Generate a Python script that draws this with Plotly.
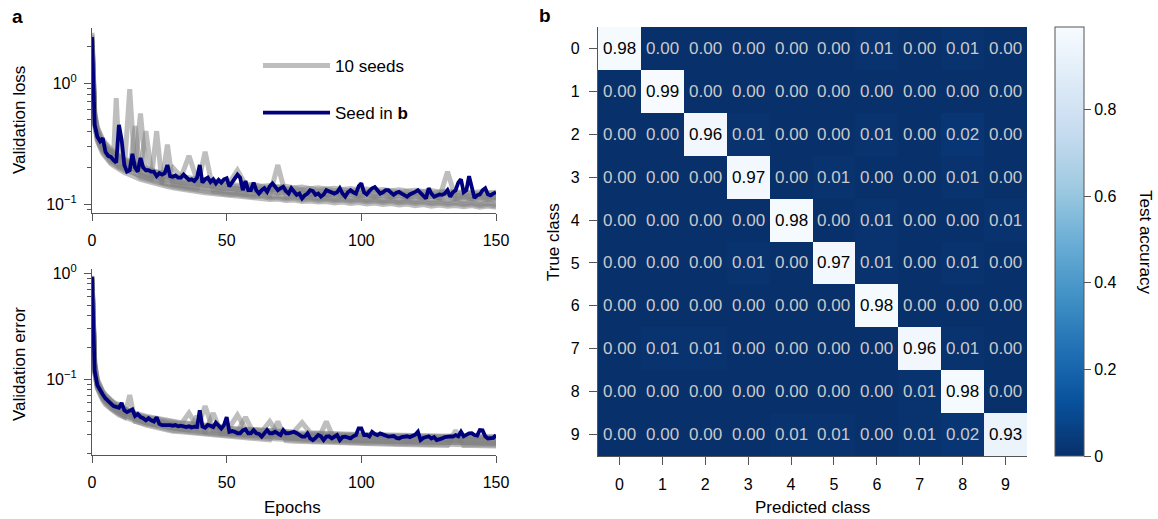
import plotly.graph_objects as go

# ---------------- data ----------------
EPOCHS = list(range(151))

# highlighted seed (navy), one value per epoch
LOSS_SEED = [
    2.4, 0.45, 0.36, 0.33, 0.35, 0.27, 0.25, 0.245, 0.23, 0.22,
    0.45, 0.34, 0.21, 0.185, 0.19, 0.26, 0.2, 0.185, 0.24, 0.2,
    0.19, 0.19, 0.185, 0.185, 0.17, 0.18, 0.175, 0.18, 0.21, 0.17,
    0.168, 0.172, 0.165, 0.165, 0.175, 0.168, 0.158, 0.16, 0.155, 0.165,
    0.21, 0.15, 0.16, 0.165, 0.152, 0.16, 0.148, 0.158, 0.15, 0.16,
    0.163, 0.14, 0.15, 0.165, 0.175, 0.165, 0.13, 0.155, 0.13, 0.13,
    0.15, 0.13, 0.122, 0.13, 0.135, 0.126, 0.14, 0.148, 0.139, 0.13,
    0.135, 0.139, 0.128, 0.122, 0.135, 0.128, 0.119, 0.122, 0.111, 0.118,
    0.122, 0.13, 0.128, 0.119, 0.122, 0.115, 0.12, 0.13, 0.128, 0.126,
    0.122, 0.125, 0.135, 0.122, 0.115, 0.125, 0.13, 0.125, 0.122, 0.14,
    0.148, 0.125, 0.12, 0.128, 0.135, 0.138, 0.128, 0.122, 0.125, 0.13,
    0.13, 0.125, 0.119, 0.124, 0.126, 0.122, 0.118, 0.115, 0.12, 0.122,
    0.126, 0.13, 0.124, 0.118, 0.111, 0.135, 0.122, 0.115, 0.118, 0.12,
    0.119, 0.122, 0.13, 0.115, 0.125, 0.13, 0.15, 0.16, 0.125, 0.13,
    0.17, 0.14, 0.112, 0.118, 0.12, 0.13, 0.135, 0.12, 0.118, 0.122, 0.125,
]
ERR_SEED = [
    0.93, 0.12, 0.088, 0.078, 0.072, 0.066, 0.062, 0.058, 0.056, 0.055,
    0.054, 0.06, 0.051, 0.049, 0.05, 0.052, 0.045, 0.047, 0.044, 0.043,
    0.041, 0.043, 0.041, 0.04, 0.044, 0.038, 0.037, 0.037, 0.0375, 0.037,
    0.0365, 0.037, 0.036, 0.0365, 0.036, 0.0355, 0.036, 0.0352, 0.0357, 0.0355,
    0.051, 0.036, 0.035, 0.0372, 0.0365, 0.0355, 0.039, 0.036, 0.0343, 0.037,
    0.044, 0.032, 0.0325, 0.032, 0.031, 0.031, 0.033, 0.0337, 0.031, 0.031,
    0.0332, 0.031, 0.0305, 0.0288, 0.031, 0.0332, 0.031, 0.031, 0.032, 0.0305,
    0.0298, 0.0332, 0.031, 0.031, 0.0315, 0.032, 0.031, 0.0298, 0.0288, 0.0288,
    0.0309, 0.0277, 0.0267, 0.028, 0.0298, 0.029, 0.0267, 0.0288, 0.029, 0.0277,
    0.0285, 0.0298, 0.0267, 0.0285, 0.0288, 0.028, 0.0277, 0.029, 0.0298, 0.0345,
    0.0345, 0.0298, 0.03, 0.029, 0.032, 0.0305, 0.0298, 0.0309, 0.03, 0.029,
    0.0288, 0.029, 0.0292, 0.028, 0.0277, 0.0285, 0.0288, 0.029, 0.0285, 0.0292,
    0.03, 0.032, 0.0267, 0.028, 0.0288, 0.029, 0.0277, 0.0285, 0.0267, 0.0275,
    0.0277, 0.0285, 0.0288, 0.029, 0.0288, 0.0298, 0.029, 0.032, 0.029, 0.0298,
    0.0309, 0.031, 0.0298, 0.0295, 0.0332, 0.033, 0.029, 0.0277, 0.0277, 0.028, 0.0298,
]

# the other seeds (grey), read at these epochs
SEED_EPOCHS = [0, 1, 2, 3, 4, 5, 6, 7, 8, 9, 10, 11, 12,
               14, 16, 18, 20, 22, 24, 26, 28, 30,
               33, 36, 39, 42, 45, 48, 51, 54, 57, 60,
               63, 66, 69, 72, 75, 78, 81, 84, 87, 90,
               93, 96, 99, 102, 105, 108, 111, 114, 117, 120,
               123, 126, 129, 132, 135, 138, 141, 144, 147, 150]

LOSS_A = [2.2, 0.48, 0.34, 0.3, 0.27, 0.25, 0.235, 0.22, 0.215, 0.205, 0.2, 0.195, 0.19,
          0.89, 0.18, 0.165, 0.16, 0.155, 0.15, 0.148, 0.142, 0.14,
          0.136, 0.133, 0.13, 0.128, 0.125, 0.124, 0.12, 0.12, 0.117, 0.115,
          0.116, 0.112, 0.113, 0.11, 0.112, 0.108, 0.11, 0.107, 0.109, 0.106,
          0.108, 0.105, 0.107, 0.104, 0.106, 0.103, 0.105, 0.102, 0.104, 0.101,
          0.103, 0.1, 0.102, 0.099, 0.101, 0.098, 0.1, 0.097, 0.099, 0.096]
LOSS_B = [2.5, 0.55, 0.4, 0.34, 0.31, 0.29, 0.27, 0.26, 0.25, 0.75, 0.26, 0.22, 0.21,
          0.2, 0.195, 0.185, 0.175, 0.172, 0.165, 0.16, 0.16, 0.155,
          0.15, 0.15, 0.145, 0.14, 0.14, 0.135, 0.135, 0.132, 0.13, 0.128,
          0.126, 0.127, 0.124, 0.125, 0.122, 0.123, 0.12, 0.122, 0.119, 0.12,
          0.118, 0.121, 0.117, 0.119, 0.116, 0.118, 0.115, 0.117, 0.114, 0.116,
          0.113, 0.115, 0.112, 0.114, 0.111, 0.113, 0.11, 0.112, 0.109, 0.111]
LOSS_C = [2.3, 0.52, 0.4, 0.35, 0.32, 0.3, 0.28, 0.27, 0.255, 0.245, 0.24, 0.23, 0.225,
          0.21, 0.2, 0.56, 0.19, 0.18, 0.175, 0.17, 0.168, 0.162,
          0.158, 0.155, 0.152, 0.148, 0.145, 0.142, 0.14, 0.138, 0.136, 0.134,
          0.135, 0.131, 0.13, 0.131, 0.128, 0.129, 0.126, 0.127, 0.125, 0.126,
          0.124, 0.125, 0.123, 0.124, 0.122, 0.123, 0.121, 0.122, 0.12, 0.121,
          0.119, 0.12, 0.118, 0.119, 0.117, 0.118, 0.116, 0.117, 0.116, 0.115]
LOSS_D = [2.1, 0.47, 0.36, 0.31, 0.285, 0.265, 0.25, 0.24, 0.228, 0.22, 0.212, 0.205, 0.2,
          0.19, 0.44, 0.175, 0.168, 0.162, 0.158, 0.153, 0.31, 0.147,
          0.143, 0.14, 0.138, 0.135, 0.132, 0.13, 0.127, 0.126, 0.124, 0.122,
          0.125, 0.118, 0.21, 0.116, 0.119, 0.113, 0.117, 0.112, 0.116, 0.111,
          0.115, 0.11, 0.114, 0.109, 0.113, 0.108, 0.112, 0.108, 0.111, 0.107,
          0.111, 0.107, 0.11, 0.106, 0.11, 0.106, 0.109, 0.105, 0.109, 0.105]
LOSS_E = [2.4, 0.55, 0.42, 0.36, 0.33, 0.31, 0.29, 0.275, 0.265, 0.255, 0.245, 0.24, 0.23,
          0.22, 0.21, 0.2, 0.40, 0.19, 0.183, 0.178, 0.172, 0.17,
          0.165, 0.25, 0.158, 0.155, 0.15, 0.148, 0.145, 0.145, 0.14, 0.142,
          0.138, 0.136, 0.138, 0.134, 0.135, 0.132, 0.134, 0.13, 0.133, 0.129,
          0.131, 0.128, 0.13, 0.127, 0.129, 0.126, 0.128, 0.125, 0.127, 0.124,
          0.126, 0.123, 0.125, 0.122, 0.124, 0.121, 0.123, 0.12, 0.122, 0.119]
LOSS_F = [2.2, 0.46, 0.35, 0.3, 0.28, 0.26, 0.245, 0.23, 0.222, 0.212, 0.205, 0.2, 0.193,
          0.185, 0.178, 0.17, 0.165, 0.16, 0.40, 0.15, 0.148, 0.143,
          0.14, 0.137, 0.134, 0.27, 0.128, 0.126, 0.123, 0.122, 0.12, 0.118,
          0.119, 0.115, 0.117, 0.113, 0.115, 0.112, 0.113, 0.11, 0.112, 0.109,
          0.11, 0.108, 0.11, 0.107, 0.109, 0.106, 0.108, 0.105, 0.107, 0.104,
          0.106, 0.103, 0.105, 0.102, 0.104, 0.101, 0.103, 0.1, 0.102, 0.1]
LOSS_G = [2.3, 0.5, 0.37, 0.33, 0.3, 0.28, 0.26, 0.25, 0.24, 0.235, 0.225, 0.215, 0.21,
          0.2, 0.19, 0.185, 0.178, 0.17, 0.168, 0.16, 0.158, 0.155,
          0.15, 0.148, 0.146, 0.142, 0.14, 0.136, 0.135, 0.133, 0.13, 0.13,
          0.127, 0.128, 0.124, 0.126, 0.123, 0.124, 0.12, 0.122, 0.119, 0.121,
          0.118, 0.12, 0.117, 0.119, 0.116, 0.118, 0.115, 0.118, 0.114, 0.117,
          0.113, 0.116, 0.113, 0.185, 0.112, 0.116, 0.112, 0.115, 0.111, 0.114]
LOSS_H = [2.6, 0.58, 0.43, 0.37, 0.34, 0.32, 0.3, 0.285, 0.27, 0.26, 0.25, 0.245, 0.235,
          0.225, 0.215, 0.205, 0.198, 0.19, 0.185, 0.18, 0.176, 0.2,
          0.168, 0.165, 0.16, 0.158, 0.155, 0.152, 0.15, 0.19, 0.145, 0.145,
          0.14, 0.142, 0.138, 0.14, 0.136, 0.138, 0.134, 0.136, 0.133, 0.135,
          0.132, 0.134, 0.131, 0.133, 0.13, 0.132, 0.129, 0.131, 0.128, 0.13,
          0.127, 0.129, 0.126, 0.128, 0.125, 0.127, 0.124, 0.126, 0.124, 0.125]
LOSS_I = [2.0, 0.44, 0.33, 0.29, 0.26, 0.245, 0.228, 0.215, 0.207, 0.2, 0.195, 0.188, 0.182,
          0.175, 0.166, 0.16, 0.155, 0.15, 0.146, 0.142, 0.139, 0.136,
          0.132, 0.13, 0.127, 0.124, 0.122, 0.12, 0.118, 0.116, 0.114, 0.112,
          0.112, 0.109, 0.11, 0.107, 0.108, 0.105, 0.106, 0.104, 0.105, 0.102,
          0.104, 0.101, 0.103, 0.1, 0.102, 0.099, 0.101, 0.098, 0.1, 0.097,
          0.099, 0.096, 0.098, 0.096, 0.097, 0.095, 0.097, 0.094, 0.096, 0.094]

ERR_A = [0.88, 0.12, 0.083, 0.072, 0.065, 0.06, 0.056, 0.053, 0.051, 0.049, 0.047, 0.046, 0.044,
         0.071, 0.04, 0.039, 0.038, 0.037, 0.036, 0.035, 0.034, 0.033,
         0.0328, 0.032, 0.0315, 0.031, 0.0305, 0.03, 0.0295, 0.029, 0.0287, 0.0282,
         0.028, 0.0276, 0.0274, 0.027, 0.0268, 0.0265, 0.0263, 0.026, 0.026, 0.0257,
         0.0256, 0.0254, 0.0253, 0.0251, 0.0252, 0.0249, 0.025, 0.0247, 0.0248, 0.0245,
         0.0246, 0.0243, 0.0245, 0.0242, 0.0244, 0.0241, 0.0243, 0.024, 0.0242, 0.024]
ERR_B = [0.92, 0.14, 0.092, 0.08, 0.071, 0.066, 0.062, 0.059, 0.056, 0.054, 0.052, 0.051, 0.049,
         0.047, 0.045, 0.043, 0.042, 0.041, 0.039, 0.039, 0.037, 0.037,
         0.0355, 0.0352, 0.034, 0.056, 0.033, 0.0328, 0.032, 0.0318, 0.031, 0.0308,
         0.030, 0.0301, 0.0295, 0.0296, 0.029, 0.0291, 0.0285, 0.0287, 0.028, 0.0283,
         0.0278, 0.028, 0.0275, 0.0277, 0.0272, 0.0275, 0.027, 0.0273, 0.0268, 0.0271,
         0.0267, 0.027, 0.0265, 0.0268, 0.0264, 0.0267, 0.0262, 0.0265, 0.0262, 0.0264]
ERR_C = [0.9, 0.135, 0.095, 0.083, 0.075, 0.069, 0.065, 0.061, 0.058, 0.056, 0.054, 0.053, 0.051,
         0.049, 0.047, 0.045, 0.044, 0.042, 0.041, 0.04, 0.039, 0.038,
         0.0375, 0.048, 0.036, 0.0355, 0.035, 0.0345, 0.034, 0.0335, 0.033, 0.0325,
         0.032, 0.04, 0.031, 0.031, 0.0305, 0.0305, 0.03, 0.0302, 0.0297, 0.0298,
         0.0294, 0.0296, 0.0291, 0.0293, 0.0289, 0.0291, 0.0287, 0.0289, 0.0285, 0.0287,
         0.0283, 0.0285, 0.0282, 0.0284, 0.028, 0.0283, 0.0279, 0.0281, 0.0278, 0.028]
ERR_D = [0.86, 0.125, 0.087, 0.075, 0.068, 0.062, 0.059, 0.056, 0.053, 0.051, 0.049, 0.048, 0.046,
         0.044, 0.042, 0.04, 0.039, 0.038, 0.0375, 0.0365, 0.0355, 0.0345,
         0.034, 0.0336, 0.0326, 0.032, 0.048, 0.031, 0.0307, 0.0302, 0.0297, 0.0293,
         0.0288, 0.0286, 0.0283, 0.028, 0.0278, 0.0276, 0.0273, 0.0272, 0.04, 0.0268,
         0.0267, 0.0265, 0.0264, 0.0262, 0.0262, 0.026, 0.026, 0.0258, 0.0258, 0.0257,
         0.0256, 0.0255, 0.0254, 0.0254, 0.0253, 0.0253, 0.0252, 0.0252, 0.0251, 0.0251]
ERR_E = [0.95, 0.145, 0.1, 0.086, 0.077, 0.072, 0.067, 0.064, 0.061, 0.058, 0.056, 0.055, 0.053,
         0.05, 0.048, 0.046, 0.045, 0.044, 0.043, 0.042, 0.041, 0.04,
         0.039, 0.0385, 0.0375, 0.037, 0.0362, 0.0358, 0.035, 0.046, 0.034, 0.0336,
         0.033, 0.0328, 0.0325, 0.0322, 0.032, 0.039, 0.0314, 0.0311, 0.0308, 0.0308,
         0.0305, 0.0305, 0.0302, 0.0302, 0.03, 0.03, 0.0298, 0.0298, 0.0296, 0.0296,
         0.0294, 0.0294, 0.0292, 0.0292, 0.029, 0.029, 0.0289, 0.0289, 0.0288, 0.0288]
ERR_F = [0.85, 0.115, 0.082, 0.07, 0.063, 0.058, 0.055, 0.052, 0.05, 0.048, 0.046, 0.045, 0.043,
         0.041, 0.04, 0.038, 0.037, 0.036, 0.035, 0.0342, 0.0333, 0.0324,
         0.032, 0.0315, 0.0306, 0.0301, 0.0297, 0.0292, 0.0288, 0.0283, 0.0279, 0.0275,
         0.027, 0.0268, 0.04, 0.0264, 0.0261, 0.0259, 0.0257, 0.0255, 0.0252, 0.0252,
         0.025, 0.0249, 0.0248, 0.0247, 0.0246, 0.0245, 0.0244, 0.0243, 0.0242, 0.0241,
         0.024, 0.024, 0.0239, 0.0238, 0.033, 0.0237, 0.0237, 0.0236, 0.0236, 0.0235]
ERR_G = [0.9, 0.13, 0.09, 0.079, 0.071, 0.066, 0.062, 0.059, 0.057, 0.055, 0.06, 0.05, 0.049,
         0.047, 0.045, 0.043, 0.042, 0.041, 0.04, 0.039, 0.038, 0.037,
         0.036, 0.0357, 0.0347, 0.0342, 0.0337, 0.0332, 0.0327, 0.0321, 0.044, 0.0311,
         0.0306, 0.0304, 0.0301, 0.0299, 0.0296, 0.0294, 0.0291, 0.0289, 0.0286, 0.0286,
         0.0284, 0.0283, 0.0281, 0.028, 0.0279, 0.0278, 0.0277, 0.0275, 0.0274, 0.0273,
         0.0272, 0.0271, 0.027, 0.027, 0.0269, 0.0269, 0.0268, 0.0268, 0.0267, 0.0267]
ERR_H = [0.88, 0.12, 0.085, 0.074, 0.067, 0.062, 0.058, 0.055, 0.052, 0.05, 0.048, 0.047, 0.045,
         0.044, 0.042, 0.04, 0.039, 0.038, 0.037, 0.036, 0.0352, 0.0342,
         0.0337, 0.0333, 0.045, 0.0318, 0.0314, 0.0309, 0.0304, 0.0299, 0.0295, 0.029,
         0.0285, 0.0283, 0.028, 0.0278, 0.0276, 0.0274, 0.0271, 0.0269, 0.0266, 0.0266,
         0.0264, 0.0263, 0.0261, 0.026, 0.0259, 0.0258, 0.0257, 0.0256, 0.0255, 0.0255,
         0.0254, 0.0253, 0.0252, 0.0252, 0.0251, 0.0251, 0.025, 0.025, 0.0249, 0.0249]
ERR_I = [0.93, 0.14, 0.097, 0.084, 0.076, 0.07, 0.066, 0.063, 0.06, 0.057, 0.055, 0.054, 0.052,
         0.05, 0.047, 0.045, 0.044, 0.043, 0.042, 0.041, 0.04, 0.039,
         0.0383, 0.0378, 0.0367, 0.0362, 0.0356, 0.0351, 0.0346, 0.034, 0.0335, 0.0329,
         0.0324, 0.0322, 0.0319, 0.0316, 0.0313, 0.0311, 0.0308, 0.0306, 0.0302, 0.0302,
         0.03, 0.0299, 0.0297, 0.0296, 0.0295, 0.0294, 0.0293, 0.0292, 0.0291, 0.029,
         0.0288, 0.0287, 0.0286, 0.0286, 0.0285, 0.0285, 0.0284, 0.0284, 0.0283, 0.0283]

LOSS_OTHERS = [LOSS_A, LOSS_B, LOSS_C, LOSS_D, LOSS_E, LOSS_F, LOSS_G, LOSS_H, LOSS_I]
ERR_OTHERS = [ERR_A, ERR_B, ERR_C, ERR_D, ERR_E, ERR_F, ERR_G, ERR_H, ERR_I]

CLASSES = list(range(10))
CONFUSION = [
    [0.98, 0.00, 0.00, 0.00, 0.00, 0.00, 0.01, 0.00, 0.01, 0.00],
    [0.00, 0.99, 0.00, 0.00, 0.00, 0.00, 0.00, 0.00, 0.00, 0.00],
    [0.00, 0.00, 0.96, 0.01, 0.00, 0.00, 0.01, 0.00, 0.02, 0.00],
    [0.00, 0.00, 0.00, 0.97, 0.00, 0.01, 0.00, 0.00, 0.01, 0.00],
    [0.00, 0.00, 0.00, 0.00, 0.98, 0.00, 0.01, 0.00, 0.00, 0.01],
    [0.00, 0.00, 0.00, 0.01, 0.00, 0.97, 0.01, 0.00, 0.01, 0.00],
    [0.00, 0.00, 0.00, 0.00, 0.00, 0.00, 0.98, 0.00, 0.00, 0.00],
    [0.00, 0.01, 0.01, 0.00, 0.00, 0.00, 0.00, 0.96, 0.01, 0.00],
    [0.00, 0.00, 0.00, 0.00, 0.00, 0.00, 0.00, 0.01, 0.98, 0.00],
    [0.00, 0.00, 0.00, 0.00, 0.01, 0.01, 0.00, 0.01, 0.02, 0.93],
]

# ---------------- style / layout ----------------
W, H = 1158, 519
FONT = "Liberation Sans, Arial, Helvetica, sans-serif"
GREY = "rgba(125,125,125,0.5)"
NAVY = "#00007f"
AX = "#555555"


def fx(p):
    return p / W


def fy(p):
    return 1 - p / H


fig = go.Figure()

for k, s in enumerate(LOSS_OTHERS):
    fig.add_trace(go.Scatter(x=SEED_EPOCHS[:len(s)], y=s, mode="lines",
                             line=dict(color=GREY, width=5),
                             name="10 seeds", legendgroup="g1",
                             showlegend=(k == 0), xaxis="x", yaxis="y"))
fig.add_trace(go.Scatter(x=EPOCHS, y=LOSS_SEED, mode="lines",
                         line=dict(color=NAVY, width=3.8),
                         name="Seed in <b>b</b>", legendgroup="g2",
                         showlegend=True, xaxis="x", yaxis="y"))
for s in ERR_OTHERS:
    fig.add_trace(go.Scatter(x=SEED_EPOCHS[:len(s)], y=s, mode="lines",
                             line=dict(color=GREY, width=5),
                             showlegend=False, xaxis="x2", yaxis="y2"))
fig.add_trace(go.Scatter(x=EPOCHS, y=ERR_SEED, mode="lines",
                         line=dict(color=NAVY, width=3.8),
                         showlegend=False, xaxis="x2", yaxis="y2"))

blues = ['rgb(8,48,107)', 'rgb(8,81,156)', 'rgb(33,113,181)', 'rgb(66,146,198)',
         'rgb(107,174,214)', 'rgb(158,202,225)', 'rgb(198,219,239)',
         'rgb(222,235,247)', 'rgb(247,251,255)']
cscale = [[i / (len(blues) - 1), c] for i, c in enumerate(blues)]

fig.add_trace(go.Heatmap(
    z=CONFUSION, x=CLASSES, y=CLASSES, xaxis="x3", yaxis="y3",
    colorscale=cscale, zmin=0, zmax=0.99, showscale=True,
    colorbar=dict(x=fx(1055), xanchor="left", y=fy(241.5), yanchor="middle",
                  len=429 / H, lenmode="fraction", thickness=29, thicknessmode="pixels",
                  outlinecolor=AX, outlinewidth=1, xpad=0, ypad=0,
                  tickvals=[0, 0.2, 0.4, 0.6, 0.8], ticktext=["0", "0.2", "0.4", "0.6", "0.8"],
                  ticks="outside", ticklen=7, tickcolor=AX,
                  tickfont=dict(size=16, color="black", family=FONT)),
))

annotations = []
for i, row in enumerate(CONFUSION):
    for j, v in enumerate(row):
        annotations.append(dict(x=CLASSES[j], y=CLASSES[i], xref="x3", yref="y3",
                                text=f"{v:.2f}", showarrow=False,
                                font=dict(size=17, family=FONT,
                                          color="black" if v > 0.5 else "#c9c9c9")))


def label(text, x, y, size=17, angle=0, bold=False, xanchor="center"):
    annotations.append(dict(text=f"<b>{text}</b>" if bold else text, x=fx(x), y=fy(y),
                            xref="paper", yref="paper", showarrow=False, textangle=angle,
                            xanchor=xanchor, yanchor="middle",
                            font=dict(size=size, family=FONT, color="black")))


label("a", 17, 17, size=19, bold=True)
label("b", 545, 15, size=19, bold=True)
label("Validation loss", 19, 120, angle=-90)
label("Validation error", 19, 364, angle=-90)
label("Epochs", 293, 507)
label("True class", 553, 242, angle=-90)
label("Predicted class", 812, 507)
label("Test accuracy", 1146, 242, angle=90)

common_x = dict(range=[0, 150], tickvals=[0, 50, 100, 150], showline=True, linecolor=AX,
                linewidth=1.2, ticks="outside", ticklen=7, tickcolor=AX, showgrid=False,
                zeroline=False, tickfont=dict(size=16, color="black", family=FONT),
                ticklabelstandoff=6)
common_y = dict(type="log", showline=True, linecolor=AX, linewidth=1.2, ticks="outside",
                ticklen=7, tickcolor=AX, showgrid=False, zeroline=False,
                tickfont=dict(size=16, color="black", family=FONT), ticklabelstandoff=4)

fig.update_layout(
    width=W, height=H, margin=dict(l=0, r=0, t=0, b=0, autoexpand=False),
    paper_bgcolor="white", plot_bgcolor="white",
    font=dict(family=FONT, size=16, color="black"),
    xaxis=dict(common_x, domain=[fx(92), fx(496)], anchor="y"),
    yaxis=dict(common_y, domain=[fy(213), fy(28)], anchor="x",
               range=[-1.0744, 0.4545], tickvals=[0.1, 1],
               ticktext=["10<sup>−1</sup>", "10<sup>0</sup>"],
               minor=dict(tickvals=[0.09, 0.2, 0.3, 0.4, 0.5, 0.6, 0.7, 0.8, 0.9, 2],
                          ticks="outside", ticklen=4, tickcolor=AX)),
    xaxis2=dict(common_x, domain=[fx(92), fx(496)], anchor="y2"),
    yaxis2=dict(common_y, domain=[fy(455), fy(269)], anchor="x2",
                range=[-1.714, 0.041], tickvals=[0.1, 1],
                ticktext=["10<sup>−1</sup>", "10<sup>0</sup>"],
                minor=dict(tickvals=[0.02, 0.03, 0.04, 0.05, 0.06, 0.07, 0.08, 0.09,
                                     0.2, 0.3, 0.4, 0.5, 0.6, 0.7, 0.8, 0.9],
                           ticks="outside", ticklen=4, tickcolor=AX)),
    xaxis3=dict(domain=[fx(598), fx(1027)], anchor="y3", range=[-0.5, 9.5],
                tickvals=CLASSES, showline=True, linecolor=AX, linewidth=1.2,
                ticks="outside", ticklen=8, tickcolor=AX, showgrid=False, zeroline=False,
                tickfont=dict(size=16, color="black", family=FONT), ticklabelstandoff=6),
    yaxis3=dict(domain=[fy(456), fy(27)], anchor="x3", range=[9.5, -0.5],
                tickvals=CLASSES, showline=True, linecolor=AX, linewidth=1.2,
                ticks="outside", ticklen=8, tickcolor=AX, showgrid=False, zeroline=False,
                tickfont=dict(size=16, color="black", family=FONT), ticklabelstandoff=6),
    showlegend=True,
    legend=dict(x=fx(258), y=fy(48), xanchor="left", yanchor="top",
                bgcolor="rgba(0,0,0,0)", font=dict(size=17, family=FONT, color="black"),
                itemwidth=67, tracegroupgap=22, traceorder="grouped"),
    annotations=annotations,
)

fig.write_html("out.html", config={"displayModeBar": False},
               post_script="document.body.style.margin='0';document.body.style.overflow='hidden';")
